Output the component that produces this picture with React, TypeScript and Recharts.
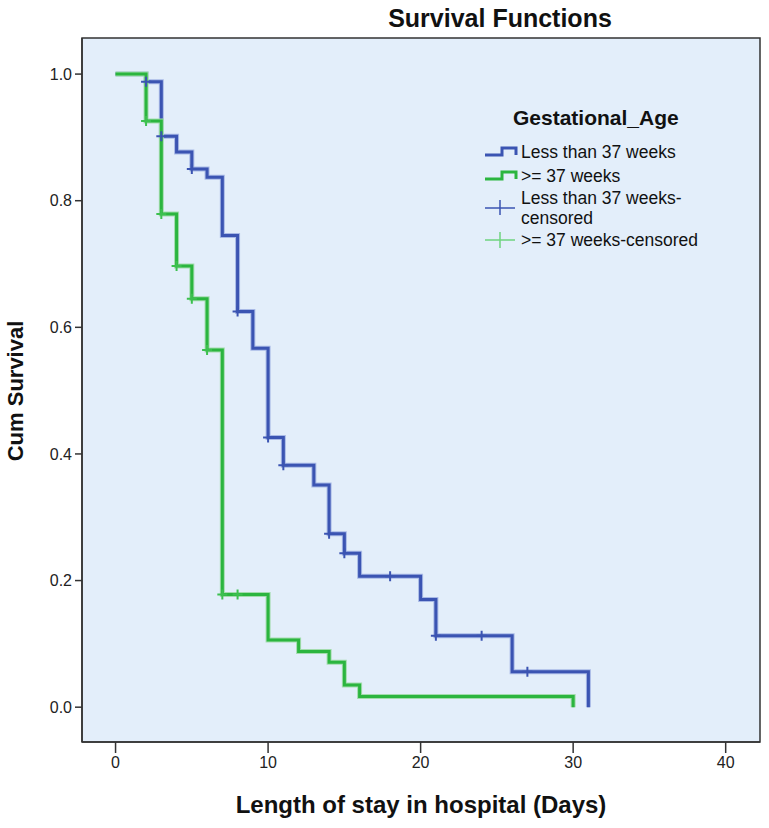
import {
  CartesianGrid,
  ComposedChart,
  Line,
  ReferenceArea,
  Scatter,
  XAxis,
  YAxis,
} from "recharts";

// Kaplan-Meier steps, Less than 37 weeks
const lt37Days = [0, 2, 3, 4, 5, 6, 7, 8, 9, 10, 11, 13, 14, 15, 16, 20, 21, 26, 31];
const lt37Survival = [
  1.0, 0.988, 0.902, 0.877, 0.85, 0.837, 0.745, 0.625, 0.567, 0.426, 0.382, 0.351,
  0.274, 0.243, 0.207, 0.17, 0.113, 0.056, 0,
];
const lt37CensorDays = [2, 3, 5, 8, 10, 11, 14, 15, 18, 21, 24, 27];
const lt37CensorSurvival = [
  0.988, 0.902, 0.85, 0.625, 0.426, 0.382, 0.274, 0.243, 0.207, 0.113, 0.113, 0.056,
];

// >= 37 weeks
const ge37Days = [0, 2, 3, 4, 5, 6, 7, 10, 12, 14, 15, 16, 30];
const ge37Survival = [
  1.0, 0.926, 0.779, 0.697, 0.645, 0.564, 0.178, 0.106, 0.088, 0.071, 0.035, 0.017, 0,
];
const ge37CensorDays = [2, 3, 4, 5, 6, 7, 8];
const ge37CensorSurvival = [0.926, 0.779, 0.697, 0.645, 0.564, 0.178, 0.178];

const xTicks = [0, 10, 20, 30, 40];
const yTicks = [0, 0.2, 0.4, 0.6, 0.8, 1.0];
const xDomain: [number, number] = [-2.2, 42.25];
const yDomain: [number, number] = [-0.055, 1.057];

const BLUE = "#3b54b2";
const BLUE_HALO = "#a8b9e6";
const GREEN = "#2bb53f";
const GREEN_HALO = "#a3dcad";
const BG = "#e3eefa";
const FONT = "'Liberation Sans', Arial, sans-serif";

const toPoints = (t: number[], s: number[]) => t.map((d, i) => ({ t: d, s: s[i] }));

const lt37 = toPoints(lt37Days, lt37Survival);
const ge37 = toPoints(ge37Days, ge37Survival);
const lt37Censored = toPoints(lt37CensorDays, lt37CensorSurvival);
const ge37Censored = toPoints(ge37CensorDays, ge37CensorSurvival);

function plusShape(color: string) {
  return (props: any) => {
    const { cx, cy } = props;
    return (
      <path
        d={`M${cx - 5},${cy}h10M${cx},${cy - 5}v10`}
        stroke={color}
        strokeWidth={2}
        fill="none"
      />
    );
  };
}

function Overlay() {
  return (
    <svg
      width={769}
      height={828}
      style={{ position: "absolute", left: 0, top: 0, pointerEvents: "none" }}
      fontFamily={FONT}
    >
      <text x={500} y={27} textAnchor="middle" fontSize={25} fontWeight="bold" fill="#111">
        Survival Functions
      </text>
      <text
        x={0}
        y={0}
        transform="translate(23,391) rotate(-90)"
        textAnchor="middle"
        fontSize={22}
        fontWeight="bold"
        fill="#111"
      >
        Cum Survival
      </text>
      <text x={421} y={813} textAnchor="middle" fontSize={24} fontWeight="bold" fill="#111">
        Length of stay in hospital (Days)
      </text>

      {/* legend */}
      <text x={513} y={125} fontSize={21} fontWeight="bold" fill="#111">
        Gestational_Age
      </text>
      <path d="M485,155H502V148H516V155" stroke={BLUE} strokeWidth={3} fill="none" />
      <text x={521} y={158} fontSize={17.5} fill="#111">Less than 37 weeks</text>
      <path d="M485,179H502V172H516V179" stroke={GREEN} strokeWidth={3} fill="none" />
      <text x={521} y={182} fontSize={17.5} fill="#111">{">= 37 weeks"}</text>
      <path d="M485,208H515M500,200V215" stroke={BLUE} strokeWidth={1.5} fill="none" />
      <text x={521} y={204} fontSize={17.5} fill="#111">Less than 37 weeks-</text>
      <text x={521} y={224} fontSize={17.5} fill="#111">censored</text>
      <path d="M485,240H515M500,232V248" stroke="#6fd47f" strokeWidth={1.5} fill="none" />
      <text x={521} y={246} fontSize={17.5} fill="#111">{">= 37 weeks-censored"}</text>
    </svg>
  );
}

export default function App() {
  return (
    <div style={{ position: "relative", width: 769, height: 828, background: "#fff" }}>
      <style>{`body{margin:0}`}</style>
      <ComposedChart
        width={769}
        height={828}
        margin={{ top: 38, right: 9, bottom: 0, left: 0 }}
      >
        <CartesianGrid horizontal={false} vertical={false} fill={BG} stroke="none" />
        <XAxis
          dataKey="t"
          type="number"
          domain={xDomain}
          ticks={xTicks}
          allowDataOverflow
          height={86}
          tickSize={11}
          tickMargin={4}
          tick={{ fontSize: 16, fill: "#222", fontFamily: FONT }}
          axisLine={{ stroke: "#333", strokeWidth: 1.5 }}
          tickLine={{ stroke: "#333", strokeWidth: 1.5 }}
        />
        <YAxis
          type="number"
          domain={yDomain}
          ticks={yTicks}
          allowDataOverflow
          width={82}
          tickSize={7}
          tickMargin={3}
          tickFormatter={(v: number) => v.toFixed(1)}
          tick={{ fontSize: 16, fill: "#222", fontFamily: FONT }}
          axisLine={{ stroke: "#333", strokeWidth: 1.5 }}
          tickLine={{ stroke: "#333", strokeWidth: 1.5 }}
        />
        <ReferenceArea
          x1={xDomain[0]}
          x2={xDomain[1]}
          y1={yDomain[0]}
          y2={yDomain[1]}
          fill="none"
          fillOpacity={0}
          stroke="#333"
          strokeWidth={1.5}
          ifOverflow="visible"
        />
        <Line data={lt37} dataKey="s" type="stepAfter" stroke={BLUE_HALO} strokeWidth={5} dot={false} activeDot={false} isAnimationActive={false} />
        <Line data={lt37} dataKey="s" type="stepAfter" stroke={BLUE} strokeWidth={3} dot={false} activeDot={false} isAnimationActive={false} />
        <Line data={ge37} dataKey="s" type="stepAfter" stroke={GREEN_HALO} strokeWidth={5} dot={false} activeDot={false} isAnimationActive={false} />
        <Line data={ge37} dataKey="s" type="stepAfter" stroke={GREEN} strokeWidth={3} dot={false} activeDot={false} isAnimationActive={false} />
        <Scatter data={lt37Censored} dataKey="s" shape={plusShape(BLUE)} isAnimationActive={false} />
        <Scatter data={ge37Censored} dataKey="s" shape={plusShape("#3cc04f")} isAnimationActive={false} />
      </ComposedChart>
      <Overlay />
    </div>
  );
}
